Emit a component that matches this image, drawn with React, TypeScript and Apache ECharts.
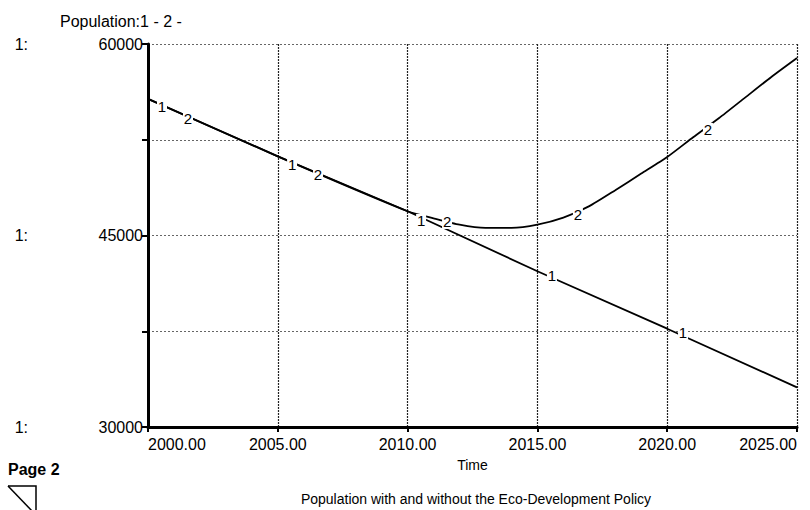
import React, { useEffect, useRef } from "react";
import * as echarts from "echarts";

// Data
const years1 = [2000, 2005, 2010, 2015, 2020, 2025];
const pop1 = [55700, 51200, 46900, 42200, 37700, 33100];

const years2 = [2000, 2005, 2010, 2011, 2012, 2013, 2014, 2015, 2016, 2017, 2018, 2019, 2020, 2021, 2022, 2023, 2024, 2025];
const pop2 = [55700, 51200, 46900, 46350, 45850, 45600, 45600, 45850, 46400, 47300, 48550, 49850, 51150, 52700, 54200, 55800, 57400, 58900];

// Positions of the "1" / "2" curve markers (data units)
const label1Years = [2000.54, 2005.55, 2010.52, 2015.56, 2020.61];
const label1Values = [55070, 50600, 46140, 41830, 37370];
const label2Years = [2001.54, 2006.55, 2011.52, 2016.56, 2021.57];
const label2Values = [54200, 49740, 46060, 46610, 53270];

const yTicksLabelled = [30000, 45000, 60000];

const FONT = "'Liberation Sans', Arial, sans-serif";

function marks(xs: number[], ys: number[], txt: string) {
  return xs.map((x, i) => ({ coord: [x, ys[i]], value: txt }));
}

export default function App() {
  const ref = useRef<HTMLDivElement>(null);
  useEffect(() => {
    if (!ref.current) return;
    const chart = echarts.init(ref.current, undefined, { renderer: "svg" });
    const markStyle = (txt: string) => ({
      symbol: "rect",
      symbolSize: [10, 14],
      itemStyle: { color: "#ffffff" },
      label: {
        show: true,
        position: "inside",
        formatter: txt,
        color: "#000",
        fontSize: 15,
        fontFamily: FONT,
      },
    });
    chart.setOption({
      animation: false,
      backgroundColor: "#ffffff",
      textStyle: { fontFamily: FONT },
      title: {
        text: "Population:1 - 2 -",
        left: 55,
        top: 8,
        textStyle: { fontSize: 16, fontWeight: "normal", color: "#000", fontFamily: FONT },
      },
      grid: { left: 148, right: 13, top: 44, bottom: 83, containLabel: false },
      xAxis: {
        type: "value",
        min: 2000,
        max: 2025,
        interval: 5,
        name: "Time",
        nameLocation: "middle",
        nameGap: 31,
        nameTextStyle: { fontSize: 14, color: "#000", fontFamily: FONT },
        axisLine: { show: true, lineStyle: { color: "#000", width: 3 } },
        axisTick: { show: true, length: 5, lineStyle: { color: "#000", width: 2 } },
        axisLabel: {
          color: "#000",
          fontSize: 16,
          margin: 9,
          fontFamily: FONT,
          formatter: (v: number) => v.toFixed(2),
          alignMinLabel: "left",
          alignMaxLabel: "right",
        },
        splitLine: { show: true, lineStyle: { color: "#222", type: [2, 1], width: 1.2 } },
      },
      yAxis: [
        {
          type: "value",
          min: 30000,
          max: 60000,
          interval: 7500,
          axisLine: { show: true, lineStyle: { color: "#000", width: 3 } },
          axisTick: { show: true, length: 6, lineStyle: { color: "#000", width: 2 } },
          axisLabel: {
            color: "#000",
            fontSize: 16,
            margin: 5,
            fontFamily: FONT,
            formatter: (v: number) => (yTicksLabelled.includes(v) ? String(v) : ""),
          },
          splitLine: { show: true, lineStyle: { color: "#666", type: [2, 2], width: 1 } },
        },
        {
          type: "value",
          min: 30000,
          max: 60000,
          interval: 7500,
          position: "left",
          offset: 112,
          axisLine: { show: false },
          axisTick: { show: false },
          splitLine: { show: false },
          axisLabel: {
            color: "#000",
            fontSize: 16,
            margin: 8,
            fontFamily: FONT,
            formatter: (v: number) => (yTicksLabelled.includes(v) ? "1:" : ""),
          },
        },
      ],
      series: [
        {
          type: "line",
          name: "1",
          data: years1.map((y, i) => [y, pop1[i]]),
          showSymbol: false,
          lineStyle: { color: "#000", width: 1.8 },
          markPoint: { ...markStyle("1"), data: marks(label1Years, label1Values, "1") },
          z: 3,
        },
        {
          type: "line",
          name: "2",
          data: years2.map((y, i) => [y, pop2[i]]),
          showSymbol: false,
          smooth: 0.2,
          lineStyle: { color: "#000", width: 1.8 },
          markPoint: { ...markStyle("2"), data: marks(label2Years, label2Values, "2") },
          z: 3,
        },
      ],
      graphic: [
        {
          type: "text",
          left: 8,
          top: 461,
          style: { text: "Page 2", fontSize: 16, fontWeight: "bold", fill: "#000", fontFamily: FONT },
        },
        {
          type: "text",
          x: 476,
          y: 499,
          style: {
            text: "Population with and without the Eco-Development Policy",
            fontSize: 14,
            fill: "#000",
            fontFamily: FONT,
            textAlign: "center",
            textVerticalAlign: "middle",
          },
        },
        {
          type: "polyline",
          shape: { points: [[8, 486], [36, 486], [36, 512]] },
          style: { stroke: "#000", lineWidth: 1.5, fill: "none" },
        },
        {
          type: "line",
          shape: { x1: 8, y1: 486, x2: 33, y2: 512 },
          style: { stroke: "#000", lineWidth: 1.5 },
        },
      ],
    });
    return () => chart.dispose();
  }, []);
  return (
    <div
      ref={ref}
      style={{ position: "fixed", left: 0, top: 0, width: 810, height: 510, background: "#fff" }}
    />
  );
}
